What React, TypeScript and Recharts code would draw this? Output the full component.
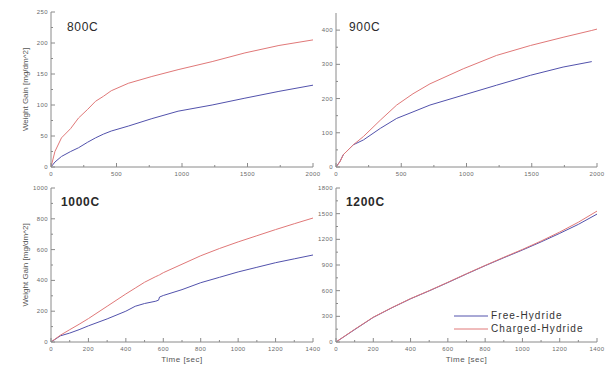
import { LineChart, Line, XAxis, YAxis, Legend } from "recharts";

// Oxidation weight gain, four temperatures.
const FREE_COLOUR = "#5252ac";
const CHARGED_COLOUR = "#e07878";
const FRAME = "#8a8a8a";
const FONT = "'Liberation Sans', Arial, sans-serif";

// 800C
const T_800 = [0, 30, 80, 150, 210, 280, 340, 400, 460, 590, 770, 970, 1230, 1480, 1740, 2000];
const FREE_800 = [0, 8, 17, 25, 31, 40, 47, 53, 58, 66, 78, 90, 100, 111, 122, 132];
const CHARGED_800 = [0, 25, 47, 62, 79, 93, 106, 114, 123, 135, 146, 157, 170, 184, 196, 205];

// 900C
const T_900 = [0, 30, 56, 133, 210, 340, 465, 590, 720, 975, 1230, 1490, 1740, 1960, 2000];
const FREE_900 = [0, 16, 36, 65, 79, 113, 142, 161, 181, 210, 239, 268, 292, 308, null];
const CHARGED_900 = [0, 15, 36, 65, 89, 137, 181, 214, 243, 287, 326, 355, 379, 399, 403];

// 1000C
const T_1000 = [0, 50, 100, 150, 200, 300, 400, 450, 500, 560, 575, 580, 600, 700, 800, 900, 1000, 1100, 1200, 1300, 1400];
const FREE_1000 = [0, 40, 58, 80, 105, 150, 200, 232, 250, 265, 272, 292, 302, 340, 385, 420, 455, 485, 515, 540, 565];
const CHARGED_1000 = [0, 44, 80, 115, 152, 232, 312, 350, 388, 425, 433, 436, 450, 505, 560, 607, 650, 690, 730, 768, 805];

// 1200C
const T_1200 = [0, 100, 200, 300, 400, 500, 600, 700, 800, 900, 1000, 1100, 1200, 1300, 1400];
const FREE_1200 = [0, 145, 288, 400, 505, 598, 695, 795, 892, 985, 1075, 1170, 1270, 1375, 1495];
const CHARGED_1200 = [0, 148, 290, 402, 507, 600, 698, 798, 895, 990, 1082, 1180, 1285, 1400, 1530];

// axis ticks
const X_MAJOR_2000 = [0, 500, 1000, 1500, 2000];
const X_MINOR_2000 = [250, 750, 1250, 1750];
const X_MAJOR_1400 = [0, 200, 400, 600, 800, 1000, 1200, 1400];
const X_MINOR_1400 = [100, 300, 500, 700, 900, 1100, 1300];
const Y_MAJOR_800 = [0, 50, 100, 150, 200, 250];
const Y_MINOR_800 = [25, 75, 125, 175, 225];
const Y_MAJOR_900 = [0, 100, 200, 300, 400];
const Y_MINOR_900 = [50, 150, 250, 350];
const Y_MAJOR_1000 = [0, 200, 400, 600, 800, 1000];
const Y_MINOR_1000 = [100, 300, 500, 700, 900];
const Y_MAJOR_1200 = [0, 300, 600, 900, 1200, 1500, 1800];
const Y_MINOR_1200 = [150, 450, 750, 1050, 1350, 1650];

const SERIES_NAMES = ["Free-Hydride", "Charged-Hydride"];

function rows(t: number[], free: (number | null)[], charged: number[]) {
  return t.map((v, i) => ({ t: v, free: free[i], charged: charged[i] }));
}

const tickText = { fontSize: 6, fill: "#6a6a6a", fontFamily: FONT, letterSpacing: 0.4 };

function makeTick(side: "bottom" | "top" | "left" | "right", majors: number[]) {
  return (p: any) => {
    const { x, y, payload } = p;
    const major = majors.includes(payload.value);
    const len = major ? 4 : 2;
    if (side === "bottom") {
      return (
        <g>
          <line x1={x} x2={x} y1={y} y2={y - len} stroke={FRAME} />
          {major && (
            <text x={x} y={y + 8.5} textAnchor="middle" {...tickText}>
              {payload.value}
            </text>
          )}
        </g>
      );
    }
    if (side === "top") {
      return <line x1={x} x2={x} y1={y} y2={y + len} stroke={FRAME} />;
    }
    if (side === "left") {
      return (
        <g>
          <line x1={x} x2={x + len} y1={y} y2={y} stroke={FRAME} />
          {major && (
            <text x={x - 3} y={y + 2} textAnchor="end" {...tickText}>
              {payload.value}
            </text>
          )}
        </g>
      );
    }
    return <line x1={x} x2={x - len} y1={y} y2={y} stroke={FRAME} />;
  };
}

function LegendBox({ payload }: any) {
  if (!payload) return null;
  // keep the series order, not alphabetical
  const items = [...payload].sort(
    (a: any, b: any) => SERIES_NAMES.indexOf(a.value) - SERIES_NAMES.indexOf(b.value)
  );
  return (
    <div style={{ fontFamily: FONT }}>
      {items.map((e: any) => (
        <div key={e.value} style={{ display: "flex", alignItems: "center", height: 13 }}>
          <svg width={34} height={4} style={{ marginRight: 3 }}>
            <line x1={0} x2={34} y1={2} y2={2} stroke={e.color} strokeWidth={1} />
          </svg>
          <span style={{ fontSize: 10, color: "#333", letterSpacing: 1.1, lineHeight: "13px" }}>
            {e.value}
          </span>
        </div>
      ))}
    </div>
  );
}

type PanelProps = {
  title: string;
  bold?: boolean;
  titleX: number;
  titleY: number;
  left: number;
  top: number;
  width: number;
  height: number;
  marginTop: number;
  marginRight: number;
  yWidth: number;
  xHeight: number;
  data: { t: number; free: number | null; charged: number }[];
  xDomain: [number, number];
  yDomain: [number, number];
  xMajor: number[];
  xMinor: number[];
  yMajor: number[];
  yMinor: number[];
  yLabel?: boolean;
  xLabel?: boolean;
  legend?: boolean;
};

function Panel(p: PanelProps) {
  const xTicks = [...p.xMajor, ...p.xMinor].sort((a, b) => a - b);
  const yTicks = [...p.yMajor, ...p.yMinor].sort((a, b) => a - b);
  return (
    <div style={{ position: "absolute", left: p.left, top: p.top, width: p.width, height: p.height }}>
      <LineChart
        width={p.width}
        height={p.height}
        data={p.data}
        margin={{ top: p.marginTop, right: p.marginRight, bottom: 0, left: 0 }}
      >
        <XAxis
          xAxisId="b"
          dataKey="t"
          type="number"
          domain={p.xDomain}
          allowDataOverflow
          ticks={xTicks}
          interval={0}
          height={p.xHeight}
          tickSize={0}
          tickMargin={0}
          tickLine={false}
          axisLine={{ stroke: FRAME }}
          tick={makeTick("bottom", p.xMajor)}
          label={
            p.xLabel
              ? {
                  value: "Time [sec]",
                  position: "insideBottom",
                  offset: 3,
                  style: { fontSize: 8, fill: "#555", fontFamily: FONT, letterSpacing: 0.5 },
                }
              : undefined
          }
        />
        <XAxis
          xAxisId="t"
          orientation="top"
          dataKey="t"
          type="number"
          domain={p.xDomain}
          allowDataOverflow
          ticks={xTicks}
          interval={0}
          height={0}
          tickSize={0}
          tickMargin={0}
          tickLine={false}
          axisLine={{ stroke: FRAME }}
          tick={makeTick("top", p.xMajor)}
        />
        <YAxis
          yAxisId="l"
          type="number"
          domain={p.yDomain}
          allowDataOverflow
          ticks={yTicks}
          interval={0}
          width={p.yWidth}
          tickSize={0}
          tickMargin={0}
          tickLine={false}
          axisLine={{ stroke: FRAME }}
          tick={makeTick("left", p.yMajor)}
          label={
            p.yLabel
              ? {
                  value: "Weight Gain [mg/dm^2]",
                  angle: -90,
                  position: "insideLeft",
                  offset: 25,
                  style: { fontSize: 8, fill: "#555", fontFamily: FONT, textAnchor: "middle" },
                }
              : undefined
          }
        />
        <YAxis
          yAxisId="r"
          orientation="right"
          type="number"
          domain={p.yDomain}
          allowDataOverflow
          ticks={yTicks}
          interval={0}
          width={0}
          tickSize={0}
          tickMargin={0}
          tickLine={false}
          axisLine={{ stroke: FRAME }}
          tick={makeTick("right", p.yMajor)}
        />
        <Line
          xAxisId="b"
          yAxisId="l"
          name={SERIES_NAMES[0]}
          dataKey="free"
          type="linear"
          stroke={FREE_COLOUR}
          strokeWidth={1}
          dot={false}
          isAnimationActive={false}
        />
        <Line
          xAxisId="b"
          yAxisId="l"
          name={SERIES_NAMES[1]}
          dataKey="charged"
          type="linear"
          stroke={CHARGED_COLOUR}
          strokeWidth={1}
          dot={false}
          isAnimationActive={false}
        />
        {p.legend && (
          <Legend
            layout="vertical"
            align="center"
            verticalAlign="middle"
            content={<LegendBox />}
            wrapperStyle={{ left: 138, top: 127, width: "auto" }}
          />
        )}
      </LineChart>
      <div
        style={{
          position: "absolute",
          left: p.titleX - p.left,
          top: p.titleY - p.top,
          fontFamily: FONT,
          fontSize: 12,
          lineHeight: "12px",
          letterSpacing: 0.7,
          fontWeight: p.bold ? "bold" : "normal",
          color: "#2a2a2a",
          whiteSpace: "nowrap",
        }}
      >
        {p.title}
      </div>
    </div>
  );
}

export default function App() {
  return (
    <div style={{ position: "absolute", left: 0, top: 0, width: 606, height: 365, background: "#fff" }}>
      <Panel
        title="800C"
        titleX={67}
        titleY={21}
        left={0}
        top={0}
        width={325}
        height={182}
        marginTop={12}
        marginRight={12}
        yWidth={51}
        xHeight={15}
        data={rows(T_800, FREE_800, CHARGED_800)}
        xDomain={[0, 2000]}
        yDomain={[0, 250]}
        xMajor={X_MAJOR_2000}
        xMinor={X_MINOR_2000}
        yMajor={Y_MAJOR_800}
        yMinor={Y_MINOR_800}
        yLabel
      />
      <Panel
        title="900C"
        titleX={349}
        titleY={21}
        left={316}
        top={0}
        width={290}
        height={182}
        marginTop={13}
        marginRight={9}
        yWidth={20}
        xHeight={15}
        data={rows(T_900, FREE_900, CHARGED_900)}
        xDomain={[0, 2000]}
        yDomain={[0, 450]}
        xMajor={X_MAJOR_2000}
        xMinor={X_MINOR_2000}
        yMajor={Y_MAJOR_900}
        yMinor={Y_MINOR_900}
      />
      <Panel
        title="1000C"
        bold
        titleX={61}
        titleY={196}
        left={0}
        top={182}
        width={325}
        height={183}
        marginTop={6}
        marginRight={12}
        yWidth={51}
        xHeight={23}
        data={rows(T_1000, FREE_1000, CHARGED_1000)}
        xDomain={[0, 1400]}
        yDomain={[0, 1000]}
        xMajor={X_MAJOR_1400}
        xMinor={X_MINOR_1400}
        yMajor={Y_MAJOR_1000}
        yMinor={Y_MINOR_1000}
        yLabel
        xLabel
      />
      <Panel
        title="1200C"
        bold
        titleX={346}
        titleY={196}
        left={316}
        top={182}
        width={290}
        height={183}
        marginTop={6}
        marginRight={9}
        yWidth={20}
        xHeight={23}
        data={rows(T_1200, FREE_1200, CHARGED_1200)}
        xDomain={[0, 1400]}
        yDomain={[0, 1800]}
        xMajor={X_MAJOR_1400}
        xMinor={X_MINOR_1400}
        yMajor={Y_MAJOR_1200}
        yMinor={Y_MINOR_1200}
        xLabel
        legend
      />
    </div>
  );
}
